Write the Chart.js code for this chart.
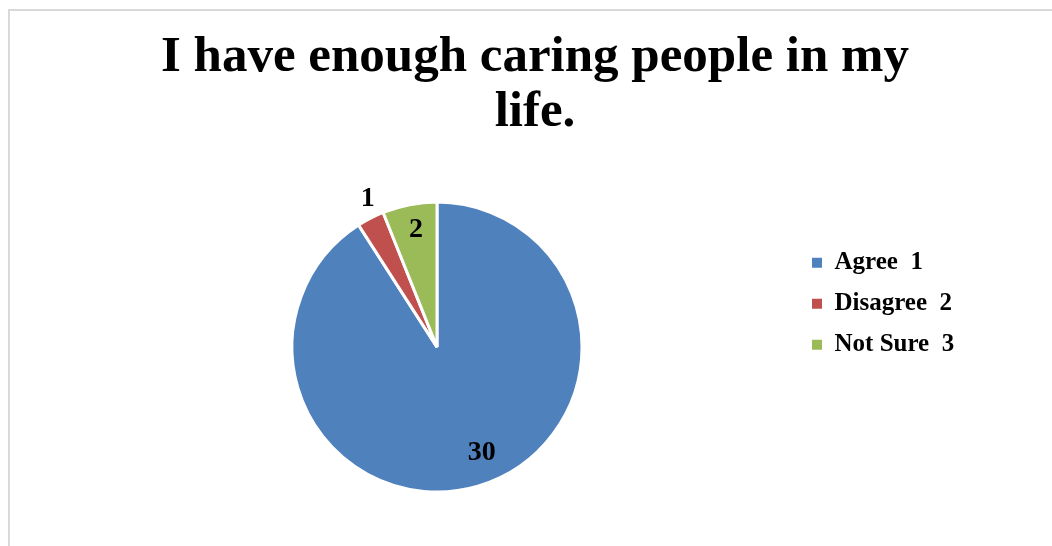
<!DOCTYPE html>
<html>
<head>
<meta charset="utf-8">
<script src="https://cdn.jsdelivr.net/npm/chart.js@4.4.1/dist/chart.umd.min.js"></script>
<style>
  html, body { margin: 0; padding: 0; background: #fff; }
  #wrap { width: 1052px; height: 546px; }
</style>
</head>
<body>
<div id="wrap"><canvas id="myChart" width="1052" height="546"></canvas></div>
<script>
const titleLines = ['I have enough caring people in my', 'life.'];
const answers = ['Agree  1', 'Disagree  2', 'Not Sure  3'];
const counts = [30, 1, 2];
const sliceColors = ['#4F81BD', '#C0504D', '#9BBB59'];

const serif = "'Liberation Serif', 'Times New Roman', serif";

// where each count sits: fraction of the radius, and a small turn (degrees)
const labelSpots = [
  { r: 0.79, turn: -6.6 },
  { r: 1.13, turn: 2.3 },
  { r: 0.82, turn: 0.7 }
];

// light grey frame round the chart
const frame = {
  id: 'frame',
  beforeDraw(chart) {
    const {ctx, width, height} = chart;
    ctx.save();
    ctx.fillStyle = '#ffffff';
    ctx.fillRect(0, 0, width, height);
    ctx.fillStyle = '#d9d9d9';
    ctx.fillRect(8, 9, 2, height - 9);
    ctx.fillRect(8, 9, width - 8, 2);
    ctx.restore();
  }
};

// value labels on / beside the slices
const sliceValues = {
  id: 'sliceValues',
  afterDatasetsDraw(chart) {
    const {ctx} = chart;
    const arcs = chart.getDatasetMeta(0).data;
    const values = chart.data.datasets[0].data;
    ctx.save();
    ctx.font = 'bold 28px ' + serif;
    ctx.fillStyle = '#000';
    ctx.textAlign = 'center';
    ctx.textBaseline = 'middle';
    arcs.forEach((arc, i) => {
      const spot = labelSpots[i];
      const mid = (arc.startAngle + arc.endAngle) / 2 + spot.turn * Math.PI / 180;
      const r = arc.outerRadius * spot.r;
      ctx.fillText(String(values[i]), arc.x + Math.cos(mid) * r, arc.y + Math.sin(mid) * r);
    });
    ctx.restore();
  }
};

const data = {
  labels: answers,
  datasets: [{
    data: counts,
    backgroundColor: sliceColors,
    borderColor: '#ffffff',
    borderWidth: 3,
    radius: 145
  }]
};

const pieLabels = Chart.controllers.pie.overrides.plugins.legend.labels.generateLabels;

const config = {
  type: 'pie',
  data,
  options: {
    responsive: false,
    animation: false,
    layout: {
      padding: { left: 78, right: 60, top: 0, bottom: 86 }
    },
    plugins: {
      title: {
        display: true,
        text: titleLines,
        color: '#000',
        font: { family: serif, size: 51, weight: 'bold', lineHeight: 1.07 },
        padding: { top: 31, bottom: 94 }
      },
      legend: {
        position: 'right',
        align: 'start',
        fullSize: false,
        labels: {
          color: '#000',
          font: { family: serif, size: 25, weight: 'bold' },
          boxWidth: 10,
          boxHeight: 10,
          padding: 16,
          // plain square keys, without the white slice border
          generateLabels(chart) {
            return pieLabels(chart).map(item => Object.assign(item, { lineWidth: 0 }));
          }
        }
      },
      tooltip: { enabled: false }
    }
  },
  plugins: [frame, sliceValues]
};

const myChart = new Chart(document.getElementById('myChart'), config);

// keep the legend column a fixed width so the pie and title sit where they should
const legendFit = myChart.legend.fit;
myChart.legend.fit = function () {
  legendFit.call(this);
  this.width = 196;
};
myChart.update();
</script>
</body>
</html>
